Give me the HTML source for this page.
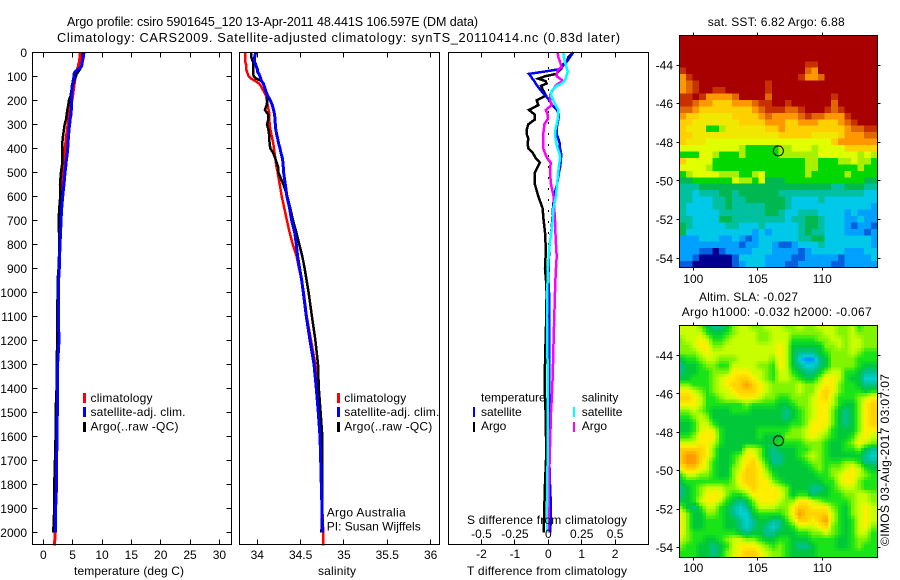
<!DOCTYPE html>
<html lang="en">
<head>
<meta charset="utf-8">
<title>Argo profile csiro 5901645_120</title>
<style>
  html, body { margin: 0; padding: 0; background: #fff; }
  svg { display: block; font-family: "Liberation Sans", sans-serif; font-size: 12px; fill: #000; }
  .frame { fill: none; stroke: #000; stroke-width: 1; shape-rendering: crispEdges; }
  .tick { stroke: #000; stroke-width: 1; shape-rendering: crispEdges; }
  .profile { fill: none; stroke-linejoin: miter; shape-rendering: crispEdges; }
  .cell { shape-rendering: crispEdges; }
  .bar { shape-rendering: crispEdges; }
</style>
</head>
<body>
<svg id="figure" width="900" height="580" viewBox="0 0 900 580" xmlns="http://www.w3.org/2000/svg">
  <text x="67" y="26" font-size="12.5" textLength="411" lengthAdjust="spacing">Argo profile: csiro 5901645_120 13-Apr-2011 48.441S 106.597E (DM data)</text>
  <text x="57" y="42" font-size="12.8" textLength="563" lengthAdjust="spacing">Climatology: CARS2009. Satellite-adjusted climatology: synTS_20110414.nc (0.83d later)</text>

  <g id="temp-panel"></g>
  <g id="sal-panel"></g>
  <g id="diff-panel"></g>
  <g id="sst-map"></g>
  <g id="sla-map"></g>

  <g>
    <rect class="bar" x="83" y="393" width="3" height="10" fill="#ff0000"/>
    <text x="90.5" y="402" textLength="62">climatology</text>
    <rect class="bar" x="83" y="407" width="3" height="10" fill="#0000ff"/>
    <text x="90.5" y="416" textLength="95">satellite-adj. clim.</text>
    <rect class="bar" x="83" y="422" width="3" height="10" fill="#000000"/>
    <text x="90.5" y="430.5" textLength="88">Argo(..raw -QC)</text>
  </g>
  <g>
    <rect class="bar" x="337" y="393" width="3" height="10" fill="#ff0000"/>
    <text x="344.3" y="402" textLength="62">climatology</text>
    <rect class="bar" x="337" y="407" width="3" height="10" fill="#0000ff"/>
    <text x="344.3" y="416" textLength="95">satellite-adj. clim.</text>
    <rect class="bar" x="337" y="422" width="3" height="10" fill="#000000"/>
    <text x="344.3" y="430.5" textLength="88">Argo(..raw -QC)</text>
    <text x="326.7" y="516.5" textLength="79">Argo Australia</text>
    <text x="326.7" y="530.5" textLength="94">PI: Susan Wijffels</text>
  </g>
  <g>
    <text x="481" y="401.5">temperature</text>
    <rect class="bar" x="473" y="407" width="2" height="10" fill="#0000ff"/>
    <text x="481" y="416">satellite</text>
    <rect class="bar" x="473" y="422" width="2" height="10" fill="#000000"/>
    <text x="481" y="430">Argo</text>
    <text x="581.7" y="401.5">salinity</text>
    <rect class="bar" x="573" y="407" width="2" height="10" fill="#00ffff"/>
    <text x="581.7" y="416">satellite</text>
    <rect class="bar" x="573" y="422" width="2" height="10" fill="#ff00ff"/>
    <text x="581.7" y="430">Argo</text>
    <text x="467" y="524" textLength="160">S difference from climatology</text>
  </g>

  <text x="74" y="575" textLength="110">temperature (deg C)</text>
  <text x="318" y="575" textLength="38">salinity</text>
  <text x="467" y="575" textLength="160">T difference from climatology</text>

  <text x="707.7" y="26" textLength="137">sat. SST: 6.82 Argo: 6.88</text>
  <text x="699" y="301" textLength="99">Altim. SLA: -0.027</text>
  <text x="681.7" y="316" textLength="190">Argo h1000: -0.032 h2000: -0.067</text>
  <text transform="translate(889 546) rotate(-90)" textLength="172">©IMOS 03-Aug-2017 03:07:07</text>
</svg>

<script>
// ---------- profile data ----------
const depths = [0,20,40,50,60,70,80,90,100,110,120,130,140,160,180,200,220,240,260,280,300,320,340,360,380,400,420,440,460,480,500,550,600,650,700,750,800,850,900,950,1000,1100,1200,1300,1400,1500,1600,1700,1800,1900,2000,2055];

const tempClim = [6.25,6.25,6.14,6.02,5.97,5.8,5.8,5.57,5.45,5.4,5.34,5.28,5.23,5.11,5.0,4.89,4.66,4.55,4.38,4.32,4.2,4.09,3.98,3.86,3.81,3.69,3.64,3.52,3.41,3.3,3.24,3.13,3.01,2.95,2.9,2.84,2.73,2.73,2.67,2.61,2.56,2.5,2.45,2.4,2.35,2.3,2.25,2.2,2.15,2.1,2.0,1.93];
const tempSat = [6.93,6.82,6.65,6.59,6.48,6.02,5.45,5.23,5.23,5.17,5.06,5.0,4.89,4.89,4.83,4.83,4.77,4.77,4.72,4.55,4.49,4.38,4.32,4.26,4.2,4.15,4.09,3.98,3.86,3.81,3.69,3.52,3.3,3.13,3.01,2.95,2.84,2.78,2.73,2.61,2.56,2.56,2.67,2.44,2.39,2.39,2.33,2.27,2.27,2.1,2.05];
const tempArgo = [6.7,6.7,6.65,6.53,6.42,6.25,6.02,5.68,5.57,5.4,5.23,5.11,5.0,4.77,4.66,4.38,4.26,4.09,3.98,3.86,3.64,3.52,3.41,3.3,3.24,3.24,3.24,3.24,3.24,3.13,3.01,2.84,2.9,2.73,2.61,2.67,2.67,2.67,2.61,2.44,2.44,2.39,2.39,2.27,2.27,2.1,2.1,1.99,1.88,1.88,1.7];

const salClim = [33.86,33.86,33.86,33.87,33.87,33.87,33.88,33.89,33.90,33.93,33.98,34.02,34.04,34.07,34.10,34.11,34.12,34.13,34.14,34.14,34.142,34.15,34.162,34.173,34.185,34.192,34.20,34.208,34.215,34.223,34.235,34.258,34.281,34.312,34.342,34.373,34.408,34.454,34.481,34.512,34.535,34.57,34.62,34.67,34.70,34.73,34.73,34.74,34.75,34.75,34.76,34.76];
const salSat = [33.98,33.97,33.97,33.98,33.99,34.0,34.0,34.02,34.03,34.04,34.05,34.07,34.08,34.096,34.119,34.15,34.173,34.188,34.20,34.204,34.208,34.212,34.223,34.235,34.246,34.262,34.273,34.288,34.296,34.30,34.304,34.323,34.342,34.373,34.396,34.431,34.45,34.465,34.488,34.512,34.531,34.565,34.608,34.654,34.681,34.704,34.723,34.731,34.738,34.746,34.754];
const salArgo = [33.93,33.93,33.95,33.95,33.95,33.95,33.95,33.95,33.96,33.99,34.05,34.07,34.08,34.10,34.115,34.115,34.108,34.088,34.127,34.127,34.112,34.127,34.135,34.138,34.142,34.15,34.185,34.204,34.223,34.242,34.242,34.30,34.346,34.381,34.412,34.45,34.485,34.519,34.546,34.569,34.592,34.63,34.67,34.70,34.71,34.73,34.75,34.75,34.75,34.75,34.74];

const diffTSat = [0.75,0.65,0.55,0.48,0.42,0.35,-0.10,-0.58,-0.52,-0.48,-0.42,-0.38,-0.33,-0.22,-0.08,0.03,0.12,0.26,0.32,0.30,0.27,0.25,0.25,0.30,0.34,0.35,0.38,0.38,0.37,0.35,0.32,0.26,0.17,0.14,0.12,0.09,0.04,0.02,0.01,0.0,0.02,0.02,0.02,0.02,0.02,0.05,0.04,0.03,0.05,0.08,0.06];
const diffTArgo = [0.75,0.60,0.55,0.45,0.42,0.38,0.30,0.23,-0.10,-0.30,-0.08,-0.05,-0.22,-0.15,-0.07,-0.35,-0.30,-0.58,-0.40,-0.40,-0.60,-0.64,-0.65,-0.60,-0.62,-0.60,-0.46,-0.38,-0.25,-0.33,-0.40,-0.40,-0.30,-0.17,-0.14,-0.10,-0.08,-0.08,-0.10,-0.07,-0.05,-0.06,-0.08,-0.10,-0.11,-0.08,-0.07,-0.07,-0.10,-0.12,-0.14];
const diffSArgo = [0.07,0.075,0.088,0.093,0.10,0.08,0.068,0.063,0.063,0.088,0.113,0.075,0.055,0.03,0.013,0.013,0.025,-0.018,-0.005,-0.005,-0.03,-0.033,-0.038,-0.038,-0.038,-0.038,-0.025,-0.01,0.018,0.015,0.013,0.02,0.04,0.045,0.05,0.053,0.058,0.063,0.058,0.053,0.05,0.045,0.04,0.035,0.03,0.02,0.015,0.01,0.005,0.003,0.0];
const diffSSat = [0.113,0.115,0.125,0.13,0.135,0.14,0.145,0.14,0.135,0.13,0.12,0.10,0.063,0.025,0.02,0.038,0.055,0.075,0.075,0.07,0.063,0.055,0.05,0.055,0.06,0.07,0.083,0.088,0.083,0.078,0.075,0.065,0.058,0.038,0.033,0.023,0.01,0.003,-0.003,-0.005,-0.008,-0.01,-0.008,-0.005,-0.005,-0.003,-0.003,-0.005,-0.008,-0.01,-0.01];

// ---------- tick labels ----------
const depthTicks = [0,100,200,300,400,500,600,700,800,900,1000,1100,1200,1300,1400,1500,1600,1700,1800,1900,2000];
const tempTicks = [0,5,10,15,20,25,30];
const salTicks = [34,34.5,35,35.5,36];
const diffTTicks = [-2,-1,0,1,2];
const diffSTicks = [-0.5,-0.25,0,0.25,0.5];
const lonTicks = [100,105,110];
const latTicks = [-44,-46,-48,-50,-52,-54];
const argoLon = 106.597;
const argoLat = -48.441;

// ---------- map data: colour-scale level per grid cell (north to south, west to east) ----------
const sstLevels = [
[13,13,13,13,13,13,13,13,13,13,13,13,13,13,13,13,13,13,13,13,13,13,13,13,13,13,13,13,13,13],
[13,13,13,13,13,13,13,13,13,13,13,13,13,13,13,13,13,13,13,13,13,13,13,13,13,13,13,13,13,13],
[13,13,13,13,13,13,13,13,13,13,13,13,13,13,13,13,13,13,13,13,13,13,13,13,13,13,13,13,13,13],
[13,13,13,13,13,13,13,13,13,13,13,13,13,13,13,13,13,13,13,13,13,13,13,13,13,13,13,13,13,13],
[13,13,13,13,13,13,13,13,13,13,13,13,13,13,13,13,13,13,13,12,12,13,13,13,13,13,13,13,13,13],
[12,13,13,13,13,13,13,13,13,13,13,13,13,13,13,13,13,13,13,11,10,13,13,13,13,13,13,13,13,13],
[10,12,13,13,13,13,13,13,13,13,13,13,13,13,13,13,13,13,12,10,10,11,13,13,13,13,13,13,13,13],
[10,11,12,13,13,13,13,13,13,13,13,13,13,12,13,13,13,13,13,13,13,13,13,13,13,13,13,13,13,13],
[10,11,12,13,13,12,12,13,13,13,13,13,13,12,13,13,13,13,13,13,13,13,13,13,13,13,13,13,13,13],
[12,12,13,12,10,10,10,10,11,13,13,13,13,11,13,13,13,13,13,13,13,13,13,12,13,13,13,13,13,13],
[12,12,11,10,10,9,9,9,10,10,10,11,12,12,13,13,12,13,13,13,13,13,13,11,13,13,13,13,13,13],
[11,11,10,9,9,9,9,9,9,9,9,10,11,12,12,12,11,11,12,13,13,13,12,11,12,13,13,13,13,13],
[10,9,9,8.5,8.5,8.5,8.5,8.5,9,9,9,9,10,11,10,10,10,10,11,12,11,11,10,10,10,12,13,13,13,13],
[9,9,8.5,8.5,8.5,8.5,8.5,8.5,8.5,9,9,9,9,10,10,10,9,9,10,10,10,9,9,9,10,11,12,13,13,13],
[9,8.5,8.5,8.5,6,6,7,8.5,8.5,8.5,8.5,8.5,8.5,9,9,10,9,9,9,9,9,9,9,9,9,10,11,11,12,12],
[9,9,8.5,8.5,8.5,8.5,8.5,8.5,8.5,8.5,8.5,8.5,8.5,8.5,8.5,9,9,9,9,9,8.5,8.5,8.5,8.5,9,10,10,10,11,11],
[9,8.5,8.5,8.5,8,8,8,8,8,8,8,8,8,8,8,8,8,8,8,8,8,8,8,9,10,10,10,10,10,10],
[8,8,8,8,8,8,8,8,8,7,6,6,6,6,6,7,7,8,8,8,7,8,8,8,8,9,9,9,9,9],
[6,6,6,8,8,7,6,6,6,7,6,6,6,6,6,7,7,7,7,7,7,8,8,8,8,8,8,7,8,7],
[9,8,8,8,8,6,6,6,6,6,6,6,6,6,6,6,6,6,6,7,7,6,6,6,7,7,8,7,7,6],
[8,8,8,8,7,6,6,6,6,6,6,6,6,6,6,6,6,6,6,7,7,6,6,6,6,6,6,7,6,6],
[6,7,8,8,8,8,7,7,7,6,6,7,8,6,6,6,6,6,6,7,6,6,6,6,6,7,6,6,6,6],
[5,5,6,6,6,6,6,6,8,7,7,6,8,5,5,5,6,6,6,6,6,6,6,6,6,6,6,6,5,5],
[4,4,4,5,5,5,5,5,5,5,5,5,5,5,5,5,5,5,5,5,5,5,5,4,4,5,5,5,4,4],
[4,4,3,4,4,4,5,5,4,5,5,5,5,5,5,4,4,4,4,4,4,4,4,4,4,4,4,4,3,3],
[4,4,3,3,3,4,4,5,4,4,5,5,5,5,5,5,4,3,3,3,3,4,3,3,3,3,3,3,3,3],
[4,3,3,3,3,4,4,5,4,4,4,4,4,5,5,5,4,3,3,3,3,3,3,3,3,3,3,3,3,2],
[4,3,3,3,3,3,4,4,4,4,4,4,4,5,5,4,3,3,4,4,4,3,3,3,3,2,3,2,2,2],
[4,4,3,3,3,3,5,5,4,4,4,4,4,4,4,4,3,4,4,5,5,4,3,3,3,2,2,3,2,2],
[5,4,3,3,3,3,3,4,4,3,3,3,4,3,3,3,3,3,4,5,5,4,3,3,3,2,1,2,2,1],
[5,3,3,3,3,3,3,3,3,3,3,2,3,2,3,3,3,3,4,5,4,4,3,3,3,2,2,2,1,2],
[2,2,2,3,3,3,2,2,3,2,1,2,3,3,3,3,3,3,4,4,5,5,3,3,3,3,3,3,3,2],
[2,2,2,2,2,2,2,2,2,1,2,2,3,3,2,1,1,2,3,3,3,4,3,3,3,3,3,3,3,2],
[2,2,2,1,1,0,1,2,2,2,2,3,3,3,2,2,2,2,1,2,3,3,3,3,3,2,2,2,3,3],
[2,2,1,0,0,0,0,0,1,3,3,3,3,2,2,2,2,1,1,2,2,2,2,2,1,2,2,2,2,3],
[1,1,0,0,0,0,0,0,1,2,3,3,3,2,2,2,1,1,2,2,2,2,2,1,1,2,2,2,2,2]
];

const slaLevels = [
[6,6,6,5,3,2,2,3,5,6,6,5,5,6,6,6,5,5,6,5,5,6,6,6,5,5,6,4,5,5],
[6,6,6,6,4,3,3,4,5,6,6,6,5,5,6,6,6,5,5,5,5,5,6,6,5,5,6,5,5,5],
[5,6,6,7,6,4,4,5,6,6,6,6,5,5,6,6,6,4,4,4,4,5,5,6,6,5,6,6,5,5],
[5,5,6,7,7,5,5,6,6,6,6,6,6,6,6,7,6,3,3,3,3,3,5,5,6,5,6,6,5,5],
[5,5,5,6,7,6,6,6,6,6,6,6,6,6,6,7,6,3,2,2,2,3,4,5,5,5,6,5,4,4],
[3,4,4,5,6,6,5,5,5,6,6,6,6,6,5,7,6,3,1,0,0,2,3,5,5,5,5,4,4,4],
[2,3,3,4,5,5,4,4,6,6,6,6,5,5,4,7,6,3,2,1,1,2,3,5,5,5,5,4,3,3],
[2,3,3,4,4,5,5,5,7,7,7,6,6,5,4,6,6,4,3,2,2,3,5,6,6,4,4,3,2,2],
[3,3,4,4,4,5,6,7,7,8,8,7,6,5,4,6,6,5,4,3,3,5,7,7,6,4,3,3,1,1],
[5,5,4,4,4,5,6,7,8,8,9,8,7,6,5,5,5,5,6,5,5,6,7,7,5,4,4,3,2,2],
[7,7,6,5,4,5,6,6,7,8,8,8,7,6,5,5,5,5,6,5,5,7,8,7,5,4,4,4,3,4],
[8,8,7,6,4,4,5,6,6,7,7,7,6,5,5,4,4,5,5,5,6,7,8,6,4,4,4,5,6,7],
[7,7,7,6,4,4,4,4,4,4,5,4,4,4,4,3,3,4,5,5,6,7,7,6,4,3,3,5,7,8],
[5,5,6,5,4,3,3,3,4,4,4,3,3,3,3,3,2,3,4,5,6,7,7,5,3,2,3,5,7,8],
[4,4,5,6,5,3,3,3,3,3,3,3,3,3,3,3,2,3,4,5,6,7,7,5,3,2,3,5,7,8],
[3,3,4,6,6,4,3,3,3,3,3,3,3,3,3,3,3,4,4,5,7,7,7,5,3,2,3,5,7,8],
[3,3,4,6,7,6,4,3,3,3,3,3,4,4,4,4,4,5,5,6,7,7,6,4,3,3,3,5,7,7],
[4,4,5,7,7,7,4,3,3,3,3,3,4,3,3,3,5,5,5,6,7,6,5,4,3,3,4,6,7,6],
[6,6,6,7,7,6,4,3,3,3,3,3,3,3,3,4,4,4,4,5,5,5,4,3,3,4,5,7,6,5],
[8,8,8,8,7,5,3,3,3,3,6,6,5,3,2,3,3,3,4,4,5,5,4,3,3,4,4,5,3,2],
[8,9,9,8,7,5,3,3,4,5,7,7,5,3,2,2,3,3,4,5,6,5,4,3,3,3,3,3,2,1],
[8,9,9,8,6,4,3,3,4,6,7,8,6,4,2,2,3,3,3,4,5,5,4,4,4,5,5,4,2,2],
[7,8,8,7,6,4,3,3,5,6,8,8,7,5,3,3,3,3,3,3,4,5,4,5,5,6,7,6,4,3],
[4,6,6,5,5,4,3,3,5,7,8,8,7,6,4,3,3,3,3,3,3,4,4,5,6,7,7,6,5,4],
[3,4,4,4,4,4,4,4,5,7,8,8,7,7,5,4,3,3,3,3,3,3,4,4,6,7,7,5,4,4],
[2,3,4,5,6,6,6,5,5,6,7,8,7,7,7,6,5,3,3,3,2,2,3,4,5,6,6,5,4,4],
[2,3,4,5,7,7,7,5,4,4,5,7,7,7,7,7,5,3,4,4,2,3,3,4,4,5,5,6,6,5],
[3,3,4,6,7,7,6,4,3,2,3,5,7,7,7,6,5,5,7,7,6,5,4,4,4,4,5,6,6,5],
[5,3,2,4,6,6,4,3,2,1,2,4,6,6,6,5,5,7,8,8,7,7,7,5,4,3,5,6,7,6],
[7,5,3,3,5,5,4,3,2,1,1,3,4,4,4,4,5,7,9,8,8,8,8,6,4,3,5,6,7,6],
[7,5,3,3,4,4,4,3,3,2,1,2,3,3,2,2,4,6,8,8,7,8,9,6,4,3,4,6,7,6],
[7,5,3,3,4,4,4,3,3,2,1,2,3,2,1,2,3,4,6,6,6,7,8,5,4,3,4,6,7,5],
[7,5,4,4,4,4,4,4,4,3,2,3,3,2,2,3,3,3,4,4,5,5,6,5,4,3,4,6,6,4],
[6,5,4,4,3,3,4,5,6,6,5,5,4,3,3,4,4,3,3,3,4,4,4,4,3,3,4,5,5,4],
[5,4,4,3,3,2,3,4,6,7,7,7,6,5,4,5,4,3,2,2,3,4,4,4,3,3,4,5,4,4],
[4,4,4,3,3,2,3,5,6,7,8,8,7,6,5,5,4,3,3,3,3,4,4,4,4,4,4,4,4,4]
];

const SVG_NS = 'http://www.w3.org/2000/svg';

// ---------- colour scales ----------
function rampColor(stops, v) {
  const t = Math.max(0, Math.min(stops.length - 1, v));
  const i = Math.min(stops.length - 2, Math.floor(t));
  const f = t - i;
  const mix = ch => Math.round(stops[i][ch] + (stops[i + 1][ch] - stops[i][ch]) * f);
  return 'rgb(' + mix(0) + ',' + mix(1) + ',' + mix(2) + ')';
}
function sstColor(v) {
  const stops = [[0,0,144],[0,96,224],[0,160,255],[0,200,232],[0,192,160],[0,184,80],[0,216,0],[168,240,0],[224,255,0],[255,208,0],[255,152,0],[224,104,0],[200,48,0],[168,0,0]];
  return rampColor(stops, v);
}
function slaColor(v) {
  const stops = [[0,144,255],[0,208,208],[0,192,144],[0,200,56],[24,228,24],[128,244,0],[200,255,0],[255,238,0],[255,208,0],[255,152,0]];
  return rampColor(stops, v);
}

// ---------- axis functions ----------
const yDepth = d => 52.3 + 0.24 * d;
const xTemp = t => 43.3 + 5.87 * t;
const xSal = s => 257.3 + 86.67 * (s - 34);
const xDiffT = t => 548.3 + 33.4 * t;
const xDiffS = s => 548.3 + 133.6 * s;
const xLon = lon => 693.3 + 12.9 * (lon - 100);
const ySst = lat => 65 - 19.33 * (lat + 44);
const ySla = lat => 355.3 - 19.24 * (lat + 44);

function svgEl(parent, tag) {
  const el = document.createElementNS(SVG_NS, tag);
  parent.appendChild(el);
  return el;
}
function setLine(el, x1, y1, x2, y2) {
  el.setAttribute('x1', x1);
  el.setAttribute('y1', y1);
  el.setAttribute('x2', x2);
  el.setAttribute('y2', y2);
  el.setAttribute('class', 'tick');
}
function snap(v) { return Math.round(v - 0.5) + 0.5; }

function drawFrame(g, x0, y0, x1, y1) {
  const el = svgEl(g, 'rect');
  
  
  el.setAttribute('class', 'frame');
  el.setAttribute('x', x0);
  el.setAttribute('y', y0);
  el.setAttribute('width', x1 - x0);
  el.setAttribute('height', y1 - y0);
}
function drawProfile(g, name, xFn, values, color, width) {
  const el = svgEl(g, 'polyline');
  
  
  el.setAttribute('class', 'profile');
  el.setAttribute('stroke', color);
  el.setAttribute('stroke-width', width);
  el.setAttribute('points', values.map((v, i) => xFn(v).toFixed(1) + ',' + yDepth(depths[i]).toFixed(1)).join(' '));
}
function drawXTicks(g, values, xFn, top, bottom, len) {
  values.forEach(v => {
    const x = snap(xFn(v));
    const a = svgEl(g, 'line');
    
    
    setLine(a, x, top, x, top + len);
    const b = svgEl(g, 'line');
    
    
    setLine(b, x, bottom, x, bottom - len);
  });
}
function drawXLabels(g, values, xFn, baseline) {
  values.forEach(v => {
    const t = svgEl(g, 'text');
    
    
    t.setAttribute('x', xFn(v));
    t.setAttribute('y', baseline);
    t.setAttribute('text-anchor', 'middle');
    t.textContent = v;
  });
}

// ---------- temperature panel ----------
const tempG = document.getElementById('temp-panel');
drawProfile(tempG, 'temperature-climatology-line', xTemp, tempClim, '#ff0000', 3);
drawProfile(tempG, 'temperature-argo-line', xTemp, tempArgo, '#000000', 2.5);
drawProfile(tempG, 'temperature-satellite-line', xTemp, tempSat, '#0000ff', 3);
drawFrame(tempG, 32.5, 52.5, 231.5, 544.5);
drawXTicks(tempG, tempTicks, xTemp, 52.5, 544.5, 5);
drawXLabels(tempG, tempTicks, xTemp, 559);
depthTicks.forEach(d => {
  const y = snap(yDepth(d));
  const a = svgEl(tempG, 'line');
  
  
  setLine(a, 32.5, y, 37.5, y);
  const b = svgEl(tempG, 'line');
  
  
  setLine(b, 231.5, y, 226.5, y);
  const t = svgEl(tempG, 'text');
  
  
  t.setAttribute('x', 27);
  t.setAttribute('y', yDepth(d) + 4.5);
  t.setAttribute('text-anchor', 'end');
  t.textContent = d;
});

// ---------- salinity panel ----------
const salG = document.getElementById('sal-panel');
drawProfile(salG, 'salinity-climatology-line', xSal, salClim, '#ff0000', 2.5);
drawProfile(salG, 'salinity-argo-line', xSal, salArgo, '#000000', 2.5);
drawProfile(salG, 'salinity-satellite-line', xSal, salSat, '#0000ff', 3);
drawFrame(salG, 239.5, 52.5, 439.5, 544.5);
drawXTicks(salG, salTicks, xSal, 52.5, 544.5, 5);
drawXLabels(salG, salTicks, xSal, 559);

// ---------- difference panel ----------
const diffG = document.getElementById('diff-panel');
const zeroLine = svgEl(diffG, 'line');


zeroLine.setAttribute('x1', snap(xDiffT(0)));
zeroLine.setAttribute('x2', snap(xDiffT(0)));
zeroLine.setAttribute('y1', 56);
zeroLine.setAttribute('y2', 544);
zeroLine.setAttribute('stroke', '#000');
zeroLine.setAttribute('stroke-width', 1);
zeroLine.setAttribute('stroke-dasharray', '2 9');
zeroLine.setAttribute('shape-rendering', 'crispEdges');
drawProfile(diffG, 't-difference-argo-line', xDiffT, diffTArgo, '#000000', 2.5);
drawProfile(diffG, 't-difference-satellite-line', xDiffT, diffTSat, '#0000ff', 2.5);
drawProfile(diffG, 's-difference-argo-line', xDiffS, diffSArgo, '#ff00ff', 2.5);
drawProfile(diffG, 's-difference-satellite-line', xDiffS, diffSSat, '#00ffff', 2.5);
drawFrame(diffG, 448.5, 52.5, 648.5, 544.5);
drawXTicks(diffG, diffTTicks, xDiffT, 52.5, 544.5, 5);
drawXLabels(diffG, diffTTicks, xDiffT, 558);
drawXLabels(diffG, diffSTicks, xDiffS, 538);

// ---------- maps ----------
// sub = rendered cells per grid cell along each axis; values between grid points are blended.
// shift = fractional grid offset applied when sampling, to register the grid to the plot area.
function sampleGrid(levels, r, c) {
  const rr = Math.max(0, Math.min(levels.length - 1, r));
  const cc = Math.max(0, Math.min(levels[0].length - 1, c));
  const r0 = Math.floor(rr);
  const c0 = Math.floor(cc);
  const r1 = Math.min(levels.length - 1, r0 + 1);
  const c1 = Math.min(levels[0].length - 1, c0 + 1);
  const fr = rr - r0;
  const fc = cc - c0;
  const top = levels[r0][c0] * (1 - fc) + levels[r0][c1] * fc;
  const bot = levels[r1][c0] * (1 - fc) + levels[r1][c1] * fc;
  return top * (1 - fr) + bot * fr;
}
function drawMap(g, levels, colorFn, yFn, top, bottom, labelBaseline, markerName, sub, shift) {
  const lonMin = 98.92;
  const lonMax = 114.27;
  const nRows = levels.length * sub;
  const nCols = levels[0].length * sub;
  const latTop = -44 + (yFn(-44) - top) / (yFn(-44) - yFn(-43));
  const latBottom = -44 + (yFn(-44) - bottom) / (yFn(-44) - yFn(-43));
  for (let r = 0; r < nRows; r++) {
    const lat0 = latTop + (latBottom - latTop) * r / nRows;
    const lat1 = latTop + (latBottom - latTop) * (r + 1) / nRows;
    for (let c = 0; c < nCols; c++) {
      const lon0 = lonMin + (lonMax - lonMin) * c / nCols;
      const lon1 = lonMin + (lonMax - lonMin) * (c + 1) / nCols;
      const v = sampleGrid(levels, (r + 0.5) / sub - 0.5 + shift, (c + 0.5) / sub - 0.5 + shift);
      const cell = svgEl(g, 'rect');
      
      
      cell.setAttribute('class', 'cell');
      cell.setAttribute('x', xLon(lon0).toFixed(2));
      cell.setAttribute('y', yFn(lat0).toFixed(2));
      cell.setAttribute('width', (xLon(lon1) - xLon(lon0) + 0.5).toFixed(2));
      cell.setAttribute('height', (yFn(lat1) - yFn(lat0) + 0.5).toFixed(2));
      cell.setAttribute('fill', colorFn(v));
    }
  }
  const left = xLon(lonMin);
  const right = xLon(lonMax);
  drawFrame(g, snap(left), top, snap(right), bottom);
  lonTicks.forEach(lon => {
    const x = snap(xLon(lon));
    const a = svgEl(g, 'line');
    
    
    setLine(a, x, top, x, top - 3);
    const b = svgEl(g, 'line');
    
    
    setLine(b, x, bottom, x, bottom + 3);
    const t = svgEl(g, 'text');
    
    
    t.setAttribute('x', xLon(lon));
    t.setAttribute('y', labelBaseline);
    t.setAttribute('text-anchor', 'middle');
    t.textContent = lon;
  });
  latTicks.forEach(lat => {
    const y = snap(yFn(lat));
    const a = svgEl(g, 'line');
    
    
    setLine(a, snap(left), y, snap(left) - 3, y);
    const b = svgEl(g, 'line');
    
    
    setLine(b, snap(right), y, snap(right) + 3, y);
    const t = svgEl(g, 'text');
    
    
    t.setAttribute('x', 673);
    t.setAttribute('y', yFn(lat) + 4.5);
    t.setAttribute('text-anchor', 'end');
    t.textContent = lat;
  });
  const marker = svgEl(g, 'circle');
  
  
  marker.setAttribute('cx', xLon(argoLon));
  marker.setAttribute('cy', yFn(argoLat));
  marker.setAttribute('r', 5);
  marker.setAttribute('fill', 'none');
  marker.setAttribute('stroke', '#000');
  marker.setAttribute('stroke-width', 1);
}
drawMap(document.getElementById('sst-map'), sstLevels, sstColor, ySst, 35.5, 267.5, 283, 'sst-argo-location-marker', 1, 0);
drawMap(document.getElementById('sla-map'), slaLevels, slaColor, ySla, 325.5, 557.5, 572, 'sla-argo-location-marker', 2, 0.3);
</script>
</body>
</html>
